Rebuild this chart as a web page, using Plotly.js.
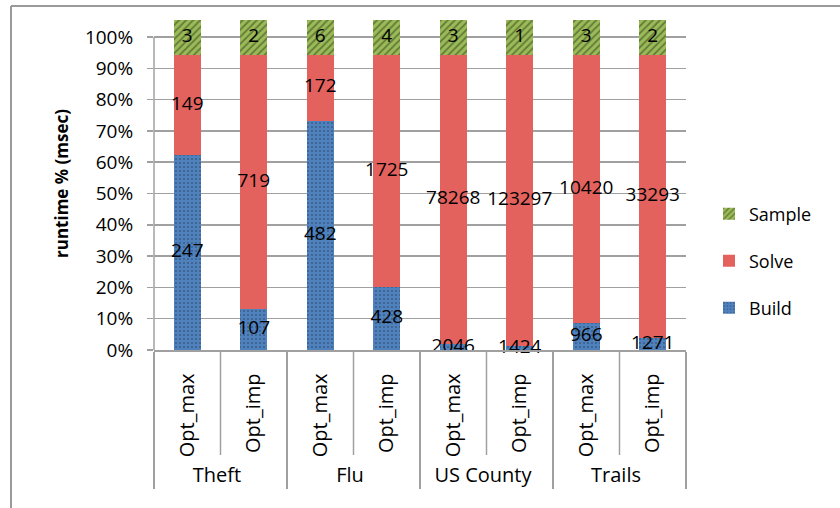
<!DOCTYPE html>
<html><head><meta charset="utf-8">
<script src="https://cdn.plot.ly/plotly-3.0.1.min.js"></script>
<style>body{margin:0;background:#fff}</style>
</head><body><div id="chart" style="width:840px;height:508px"></div>
<script>
// ---- data ----
const groups  = ['Theft','Theft','Flu','Flu','US County','US County','Trails','Trails'];
const methods = ['Opt_max','Opt_imp','Opt_max','Opt_imp','Opt_max','Opt_imp','Opt_max','Opt_imp'];
// bar segment heights, % of axis
const buildPct  = [62.3, 13.0, 73.3, 20.0, 2.0, 1.2, 8.7, 3.9];
const solvePct  = [32.0, 81.3, 21.0, 74.3, 92.3, 93.1, 85.6, 90.4];
const samplePct = [11.3, 11.3, 11.3, 11.3, 11.3, 11.3, 11.3, 11.3];
// data labels, msec
const buildMs  = [247, 107, 482, 428, 2046, 1424, 966, 1271];
const solveMs  = [149, 719, 172, 1725, 78268, 123297, 10420, 33293];
const sampleMs = [3, 2, 6, 4, 3, 1, 3, 2];
const yTicks = [0,10,20,30,40,50,60,70,80,90,100];
const yTickText = ['0%','10%','20%','30%','40%','50%','60%','70%','80%','90%','100%'];

const FONT = 'Open Sans, Noto Sans, sans-serif';
const x = [groups, methods];
function seg(name, y, color, pattern, legend) {
  return {
    type: 'bar', name: name, x: x, y: y,
    marker: {color: color, line: {width: 0}, pattern: pattern},
    width: 0.41, legend: legend, hoverinfo: 'skip'
  };
}
function labels(y, txt) {
  return {type: 'scatter', mode: 'text', x: x, y: y, text: txt.map(String),
          textposition: 'middle center', cliponaxis: false, showlegend: false, hoverinfo: 'skip',
          textfont: {family: FONT, size: 19, color: '#000'}};
}
const buildMid  = buildPct.map(v => v / 2);
const solveMid  = buildPct.map((v, i) => v + solvePct[i] / 2);
const sampleMid = buildPct.map((v, i) => v + solvePct[i] + samplePct[i] / 2);

const traces = [
  seg('Build', buildPct, '#4F81BD',
      {shape: '.', fillmode: 'overlay', fgcolor: '#000', size: 4, solidity: 0.12}, 'legend3'),
  seg('Solve', solvePct, '#E4625E', {shape: ''}, 'legend2'),
  seg('Sample', samplePct, '#9BBB59',
      {shape: '/', fillmode: 'overlay', fgcolor: '#2E3B14', size: 5, solidity: 0.35}, 'legend'),
  labels(buildMid, buildMs),
  labels(solveMid, solveMs),
  labels(sampleMid, sampleMs)
];

const L = 154, R = 154, T = 17, B = 158, W = 840, H = 508;
const pw = W - L - R, ph = H - T - B;
const px2x = p => (p - L) / pw;
const px2y = p => (H - B - p) / ph;
const gray = '#A0A0A0';
const shapes = [];
// y axis line from 0 to 100
shapes.push({type: 'line', xref: 'paper', yref: 'y', x0: 0, x1: 0, y0: 0, y1: 100,
             line: {color: gray, width: 1.5}});
// inner dividers between methods
[0.125, 0.375, 0.625, 0.875].forEach(v => shapes.push({type: 'line', xref: 'paper', yref: 'paper',
  x0: v, x1: v, y0: 0, y1: px2y(455), line: {color: gray, width: 1.5}}));
// outer frame
shapes.push({type: 'line', xref: 'paper', yref: 'paper', x0: px2x(11), x1: px2x(845), y0: px2y(6), y1: px2y(6),
             line: {color: '#9A9A9A', width: 2}});
shapes.push({type: 'line', xref: 'paper', yref: 'paper', x0: px2x(11), x1: px2x(11), y0: px2y(6), y1: px2y(515),
             line: {color: '#9A9A9A', width: 2}});

const legBase = {x: px2x(709), xanchor: 'left', yanchor: 'middle', bgcolor: 'rgba(0,0,0,0)',
                 font: {family: FONT, size: 18, color: '#000'}};
const layout = {
  width: W, height: H, margin: {l: L, r: R, t: T, b: B},
  paper_bgcolor: '#fff', plot_bgcolor: '#fff',
  barmode: 'stack', showlegend: true,
  font: {family: FONT, color: '#000'},
  xaxis: {type: 'multicategory', tickangle: -90, showline: true, linecolor: gray, linewidth: 1.5,
          showgrid: false, ticks: '', showdividers: true, dividercolor: gray, dividerwidth: 1.5,
          tickfont: {family: FONT, size: 20, color: '#000'}, ticklabelstandoff: 14, automargin: false},
  yaxis: {range: [0, 106.4], tickmode: 'array', tickvals: yTicks, ticktext: yTickText, showline: false,
          showgrid: true, gridcolor: gray, gridwidth: 1.5, zeroline: false,
          ticks: 'outside', ticklen: 6, tickcolor: gray, tickwidth: 1.5, ticklabelstandoff: 10,
          tickfont: {family: FONT, size: 19, color: '#000'}, automargin: false,
          title: {text: '<b>runtime % (msec)</b>', font: {family: FONT, size: 17, color: '#000'}, standoff: 11}},
  legend:  Object.assign({}, legBase, {y: px2y(214)}),
  legend2: Object.assign({}, legBase, {y: px2y(261)}),
  legend3: Object.assign({}, legBase, {y: px2y(308)}),
  shapes: shapes
};
Plotly.newPlot('chart', traces, layout, {displayModeBar: false, staticPlot: true});
</script></body></html>
